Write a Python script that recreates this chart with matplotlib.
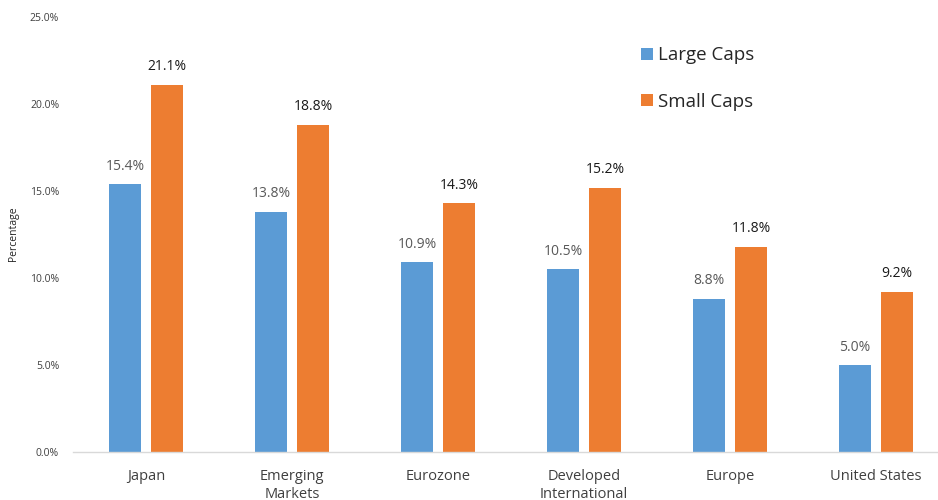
import matplotlib
matplotlib.use("Agg")
import matplotlib.pyplot as plt
from matplotlib.patches import Patch
import numpy as np

categories = ["Japan", "Emerging\nMarkets", "Eurozone", "Developed\nInternational", "Europe", "United States"]
large_caps = [15.4, 13.8, 10.9, 10.5, 8.8, 5.0]
small_caps = [21.1, 18.8, 14.3, 15.2, 11.8, 9.2]
yticks = [0, 5, 10, 15, 20, 25]

blue = "#5B9BD5"
orange = "#ED7D31"
font = ["Open Sans", "DejaVu Sans"]
plt.rcParams['font.family'] = font

W, H = 938, 500
fig = plt.figure(figsize=(W/100, H/100), dpi=100)
left, right = 73, 949
bottom, top = 452, 17
ax = fig.add_axes([left/W, (H-bottom)/H, (right-left)/W, (bottom-top)/H])

x = np.arange(len(categories))
bw = 0.223
off = 0.144
ax.bar(x - off, large_caps, bw, color=blue, label="Large Caps")
ax.bar(x + off, small_caps, bw, color=orange, label="Small Caps")

for xi, v in zip(x, large_caps):
    ax.text(xi - off, v + 0.6, f"{v:.1f}%", ha="center", va="bottom",
            fontsize=10, color="#595959")
for xi, v in zip(x, small_caps):
    ax.text(xi + off, v + 0.6, f"{v:.1f}%", ha="center", va="bottom",
            fontsize=10, color="#1a1a1a", fontweight="medium")

ax.set_xlim(-0.5, len(categories) - 0.5)
ax.set_ylim(0, 25)
ax.set_yticks(yticks)
ax.set_yticklabels([f"{t:.1f}%" for t in yticks], fontsize=7.5, color="#404040")
ax.set_xticks(x)
ax.set_xticklabels(categories, fontsize=10.5, color="#404040", linespacing=1.3, va="top")
ax.tick_params(axis="both", length=0)
ax.tick_params(axis="x", pad=12)
ax.tick_params(axis="y", pad=10)
for s in ["top", "right", "left"]:
    ax.spines[s].set_visible(False)
ax.spines["bottom"].set_color("#D9D9D9")
ax.spines["bottom"].set_linewidth(1)

fig.text(13/W, (H-234)/H, "Percentage", rotation=90, ha="center", va="center",
         fontsize=7.5, color="#262626")

handles = [Patch(facecolor=blue), Patch(facecolor=orange)]
leg = fig.legend(handles, ["Large Caps", "Small Caps"], loc="upper left",
                 bbox_to_anchor=(633/W, 1 - 39/H), frameon=False, fontsize=13.5,
                 handlelength=0.65, handleheight=0.65, handletextpad=0.3,
                 labelspacing=1.5, borderaxespad=0)
for t in leg.get_texts():
    t.set_color("#262626")

fig.savefig("out.png", dpi=100)
